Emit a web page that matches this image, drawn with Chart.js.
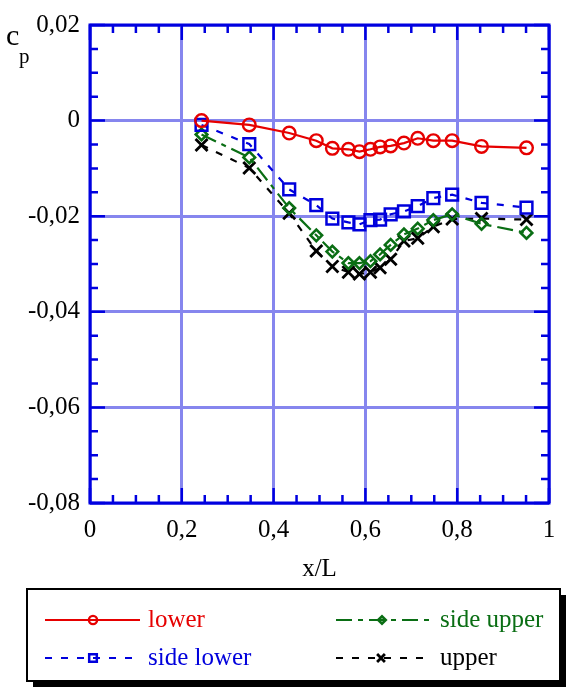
<!DOCTYPE html>
<html>
<head>
<meta charset="utf-8">
<script src="https://cdn.jsdelivr.net/npm/chart.js@4.4.1/dist/chart.umd.min.js"></script>
<style>
  html, body { margin: 0; padding: 0; background: #fff; }
  #wrap { width: 570px; height: 691px; }
</style>
</head>
<body>
<div id="wrap"><canvas id="cpChart" width="570" height="691"></canvas></div>
<script>
// measurement stations (x/L), shared by all four series
const xPos = [0.243, 0.347, 0.434, 0.493, 0.528, 0.563, 0.587, 0.611, 0.632, 0.655, 0.684, 0.714, 0.748, 0.789, 0.853, 0.951];

const lowerCp     = [0, -0.0009, -0.0026, -0.0042, -0.0058, -0.006, -0.0065, -0.006, -0.0055, -0.0053, -0.0047, -0.0037, -0.0042, -0.0042, -0.0054, -0.0057];
const sideLowerCp = [-0.0009, -0.0049, -0.0144, -0.0177, -0.0205, -0.0213, -0.0217, -0.0208, -0.0207, -0.0196, -0.019, -0.0179, -0.0162, -0.0155, -0.0172, -0.0182];
const sideUpperCp = [-0.0029, -0.0077, -0.0183, -0.024, -0.0274, -0.0298, -0.0298, -0.0294, -0.028, -0.026, -0.0238, -0.0226, -0.0208, -0.0196, -0.0216, -0.0235];
const upperCp     = [-0.0051, -0.0099, -0.0194, -0.0273, -0.0305, -0.0317, -0.0321, -0.0317, -0.0308, -0.029, -0.0252, -0.0246, -0.0222, -0.0206, -0.0205, -0.0207];

const seriesNames = ["lower", "side lower", "side upper", "upper"];

const X_MIN = 0, X_MAX = 1, X_STEP = 0.2, X_MINOR = 0.05;
const Y_MIN = -0.08, Y_MAX = 0.02, Y_STEP = 0.02, Y_MINOR = 0.005;

const RED = "#e60000", BLUE = "#0000dc", GREEN = "#0a6e14", BLACK = "#000000";
const FRAME = "#0000e0", GRID = "#8686ee";
const SERIF = "'Liberation Serif', 'Times New Roman', serif";

const pts = (ys) => ys.map((y, i) => ({ x: xPos[i], y: y }));

const fmt = (v) => String(Number(v.toFixed(3))).replace(".", ",");

function drawMarker(ctx, style, x, y, r) {
  ctx.beginPath();
  if (style === "circle") {
    ctx.arc(x, y, r, 0, Math.PI * 2);
  } else if (style === "rect") {
    const h = r * Math.SQRT1_2;
    ctx.rect(x - h, y - h, 2 * h, 2 * h);
  } else if (style === "rectRot") {
    ctx.moveTo(x - r, y); ctx.lineTo(x, y - r); ctx.lineTo(x + r, y); ctx.lineTo(x, y + r); ctx.closePath();
  } else if (style === "crossRot") {
    const h = r * Math.SQRT1_2;
    ctx.moveTo(x - h, y - h); ctx.lineTo(x + h, y + h);
    ctx.moveTo(x + h, y - h); ctx.lineTo(x - h, y + h);
  }
  ctx.stroke();
}

// frame, inward ticks, c_p label and the boxed legend
const decorations = {
  id: "decorations",
  afterDatasetsDraw(chart) {
    const ctx = chart.ctx;
    const a = chart.chartArea;
    const xs = chart.scales.x, ys = chart.scales.y;
    ctx.save();
    ctx.strokeStyle = FRAME;
    ctx.lineWidth = 3;
    ctx.strokeRect(a.left, a.top, a.right - a.left, a.bottom - a.top);

    ctx.lineWidth = 2.5;
    ctx.beginPath();
    for (let i = 0; i <= Math.round((X_MAX - X_MIN) / X_MINOR); i++) {
      const v = X_MIN + i * X_MINOR;
      const px = xs.getPixelForValue(v);
      const len = (i % 4 === 0) ? 15 : 8;
      ctx.moveTo(px, a.bottom); ctx.lineTo(px, a.bottom - len);
      ctx.moveTo(px, a.top); ctx.lineTo(px, a.top + len);
    }
    for (let i = 0; i <= Math.round((Y_MAX - Y_MIN) / Y_MINOR); i++) {
      const v = Y_MIN + i * Y_MINOR;
      const py = ys.getPixelForValue(v);
      const len = (i % 4 === 0) ? 15 : 8;
      ctx.moveTo(a.left, py); ctx.lineTo(a.left + len, py);
      ctx.moveTo(a.right, py); ctx.lineTo(a.right - len, py);
    }
    ctx.stroke();

    // axis name c with subscript p
    ctx.fillStyle = "#000";
    ctx.textBaseline = "alphabetic";
    ctx.textAlign = "left";
    ctx.font = "30px " + SERIF;
    ctx.fillText("c", 6, 45);
    ctx.font = "21px " + SERIF;
    ctx.fillText("p", 19, 63);

    // legend box with drop shadow
    const bx = 27, by = 589, bw = 533, bh = 92;
    ctx.fillStyle = "#000";
    ctx.fillRect(bx + 6, by + 6, bw, bh);
    ctx.fillStyle = "#fff";
    ctx.fillRect(bx, by, bw, bh);
    ctx.strokeStyle = "#000";
    ctx.lineWidth = 2;
    ctx.strokeRect(bx, by, bw, bh);

    const rows = [
      { ds: 0, x0: 45, x1: 140, mx: 93, tx: 148, y: 620 },
      { ds: 2, x0: 336, x1: 431, mx: 382, tx: 440, y: 620 },
      { ds: 1, x0: 45, x1: 140, mx: 93, tx: 148, y: 658 },
      { ds: 3, x0: 336, x1: 431, mx: 381, tx: 440, y: 658 }
    ];
    rows.forEach((r) => {
      const d = chart.data.datasets[r.ds];
      ctx.strokeStyle = d.borderColor;
      ctx.lineWidth = d.borderWidth;
      ctx.setLineDash(d.borderDash || []);
      ctx.beginPath();
      ctx.moveTo(r.x0, r.y); ctx.lineTo(r.x1, r.y);
      ctx.stroke();
      ctx.setLineDash([]);
      ctx.lineWidth = d.pointBorderWidth;
      drawMarker(ctx, d.pointStyle, r.mx, r.y, d.pointRadius * 0.65);
      ctx.fillStyle = d.borderColor;
      ctx.font = "25px " + SERIF;
      ctx.textBaseline = "middle";
      ctx.fillText(d.label, r.tx, r.y);
    });
    ctx.restore();
  }
};

new Chart(document.getElementById("cpChart").getContext("2d"), {
  type: "scatter",
  data: {
    datasets: [
      {
        label: seriesNames[0], data: pts(lowerCp),
        showLine: true, borderColor: RED, borderWidth: 2.2,
        pointStyle: "circle", pointRadius: 6.3, pointBorderWidth: 2.4,
        pointBorderColor: RED, pointBackgroundColor: "rgba(0,0,0,0)"
      },
      {
        label: seriesNames[1], data: pts(sideLowerCp),
        showLine: true, borderColor: BLUE, borderWidth: 2.2, borderDash: [7, 9],
        pointStyle: "rect", pointRadius: 8.3, pointBorderWidth: 2.5,
        pointBorderColor: BLUE, pointBackgroundColor: "rgba(0,0,0,0)"
      },
      {
        label: seriesNames[2], data: pts(sideUpperCp),
        showLine: true, borderColor: GREEN, borderWidth: 2.2, borderDash: [16, 6, 5, 6],
        pointStyle: "rectRot", pointRadius: 5.8, pointBorderWidth: 2.6,
        pointBorderColor: GREEN, pointBackgroundColor: "rgba(0,0,0,0)"
      },
      {
        label: seriesNames[3], data: pts(upperCp),
        showLine: true, borderColor: BLACK, borderWidth: 2.2, borderDash: [7, 9],
        pointStyle: "crossRot", pointRadius: 8.5, pointBorderWidth: 2.8,
        pointBorderColor: BLACK, pointBackgroundColor: "rgba(0,0,0,0)"
      }
    ]
  },
  options: {
    responsive: false,
    animation: false,
    devicePixelRatio: 1,
    layout: { padding: { left: 0, top: 23, right: 21, bottom: 103 } },
    plugins: {
      legend: { display: false },
      tooltip: { enabled: false }
    },
    scales: {
      x: {
        type: "linear", min: X_MIN, max: X_MAX,
        afterFit: (s) => { s.height = 85; },
        ticks: {
          stepSize: X_STEP, padding: 12, color: "#000",
          font: { family: SERIF, size: 25 },
          callback: (v) => fmt(v)
        },
        grid: { color: GRID, lineWidth: 3, drawTicks: false },
        border: { display: false },
        title: {
          display: true, text: "x/L", color: "#000",
          font: { family: SERIF, size: 25 },
          padding: { top: 0, bottom: 4 }
        }
      },
      y: {
        type: "linear", min: Y_MIN, max: Y_MAX,
        afterFit: (s) => { s.width = 90; },
        ticks: {
          stepSize: Y_STEP, padding: 10, color: "#000",
          font: { family: SERIF, size: 25 },
          callback: (v) => fmt(v)
        },
        grid: { color: GRID, lineWidth: 3, drawTicks: false },
        border: { display: false }
      }
    }
  },
  plugins: [decorations]
});
</script>
</body>
</html>
